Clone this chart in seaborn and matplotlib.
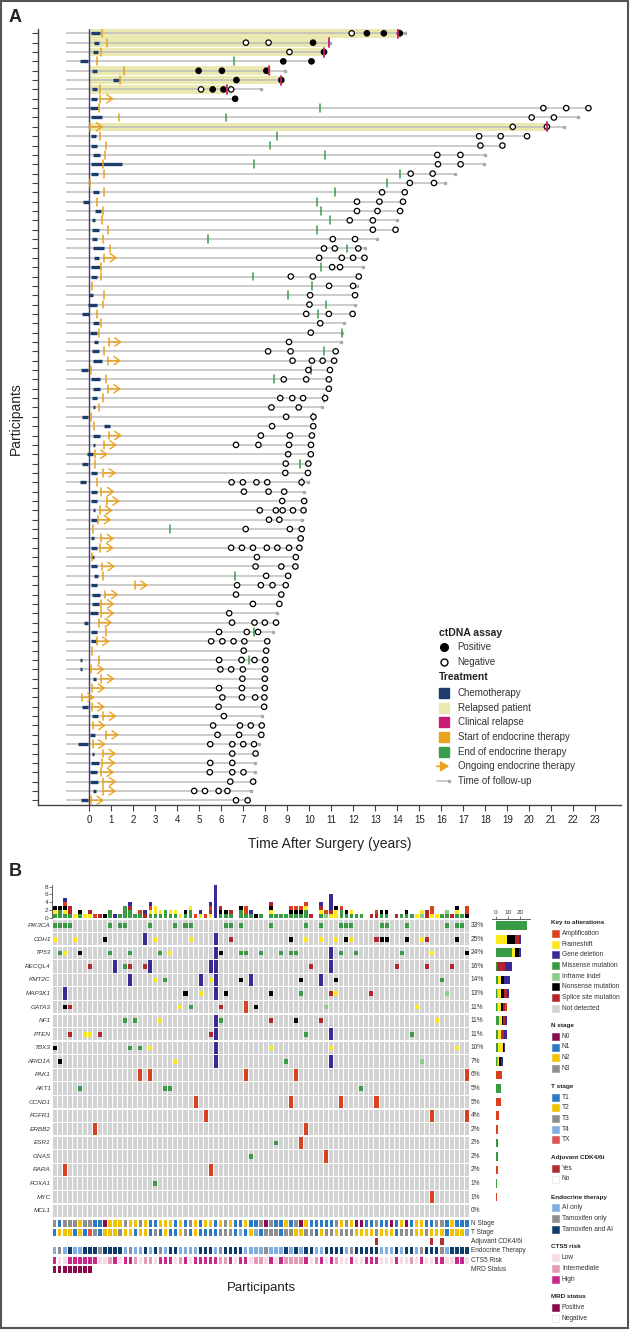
import numpy as np
import pandas as pd
import matplotlib
matplotlib.use("Agg")
import matplotlib.pyplot as plt
import seaborn as sns
from matplotlib.patches import Rectangle, FancyArrowPatch
from matplotlib.lines import Line2D
from matplotlib import font_manager

# ======================= PANEL A DATA =======================
chemo_start = [0.07, 0.20, 0.15, -0.40, 0.11, 1.06, 0.11, 0.09, 0.05, 0.09,
               None, 0.08, 0.08, 0.19, 0.08, 0.08, None, 0.16, -0.30, 0.28,
               0.13, 0.13, 0.11, 0.16, 0.20, 0.08, 0.08, None, 0.00, -0.07,
               -0.35, 0.15, 0.05, 0.22, 0.13, 0.18, -0.37, 0.07, 0.16, 0.13,
               0.15, -0.35, 0.68, 0.15, 0.15, -0.09, -0.35, 0.09, -0.40, 0.09,
               0.09, 0.16, 0.09, None, 0.07, 0.09, 0.07, 0.07, 0.20, 0.07,
               0.13, 0.11, 0.05, -0.22, 0.07, 0.07, None, -0.42, -0.40, 0.15,
               None, None, -0.33, 0.13, None, 0.05, -0.49, 0.11, 0.09, 0.05,
               0.05, 0.15, -0.37]
chemo_end = [0.51, 0.46, 0.38, -0.04, 0.37, 1.33, 0.33, 0.33, 0.38, 0.57,
             None, 0.32, 0.37, 0.50, 1.49, 0.39, None, 0.46, 0.00, 0.52,
             0.27, 0.43, 0.37, 0.67, 0.46, 0.49, 0.35, None, 0.16, 0.37,
             0.00, 0.42, 0.37, 0.38, 0.42, 0.60, -0.05, 0.51, 0.47, 0.35,
             0.24, -0.07, 0.93, 0.47, 0.22, 0.16, -0.07, 0.37, -0.16, 0.37,
             0.37, 0.26, 0.37, None, 0.22, 0.37, 0.20, 0.35, 0.38, 0.37,
             0.47, 0.44, 0.40, -0.07, 0.35, 0.33, None, -0.33, -0.31, 0.29,
             None, None, -0.07, 0.38, None, 0.26, -0.07, 0.20, 0.42, 0.33,
             0.38, 0.29, -0.07]
endo_start = [0.60, 0.82, 0.55, 0.33, 1.57, 1.39, 0.51, 0.51, 0.46, 1.37,
              0.04, 0.50, 0.75, 0.72, 0.61, 0.67, 0.04, 0.69, 0.33, 0.61,
              0.60, 0.84, 0.61, 0.95, 0.67, 0.52, 0.54, 0.14, 0.69, 0.62,
              0.33, 0.53, 0.44, 0.88, 0.66, 0.84, 0.09, 0.77, 0.84, 0.64,
              0.46, 0.09, 0.20, 0.88, 0.66, 0.24, 0.26, 0.62, 0.35, 0.55,
              0.79, 0.47, 0.40, 0.18, 0.53, 0.51, 0.13, 0.57, 0.62, 2.06,
              0.73, 0.55, 0.55, 0.44, 0.75, 0.33, 0.11, 0.44, 0.09, 0.55,
              0.13, -0.35, 0.11, 0.64, 0.15, 0.75, 0.15, 0.62, 0.60, 0.53,
              0.64, 0.62, 0.07]
endo_end = [None, None, None, 6.58, None, None, None, None, 10.47, 6.23,
            None, 8.54, 8.22, 10.70, 7.51, 14.11, 13.54, 11.19, 10.33, 10.52,
            10.96, 10.34, 5.38, 11.72, None, 10.52, 7.45, 10.13, 9.04, 10.76,
            10.41, None, 11.47, None, 10.67, None, 10.10, 8.39, None, 10.65,
            None, 10.19, None, None, None, None, 9.59, None, 9.65, None,
            None, None, None, 3.69, None, None, None, None, 6.63, None,
            None, None, None, None, 7.51, None, None, 7.27, None, None,
            None, None, None, None, None, None, None, None, None, None,
            None, None, None]
endo_ongoing = [0, 0, 0, 0, 0, 0, 0, 1, 0, 0,
                1, 0, 0, 0, 0, 0, 0, 0, 0, 0,
                0, 0, 0, 0, 1, 0, 0, 0, 0, 0,
                0, 0, 0, 1, 0, 1, 0, 0, 1, 0,
                0, 0, 0, 1, 1, 1, 0, 1, 0, 1,
                1, 1, 1, 0, 1, 1, 0, 1, 0, 1,
                1, 1, 1, 1, 0, 1, 0, 0, 1, 1,
                1, 1, 1, 1, 1, 1, 1, 1, 1, 1,
                1, 1, 1]
followup = [14.36, 10.92, 10.70, 10.19, 8.91, 8.75, 7.82, 6.63, 22.69, 22.20,
            21.60, 19.90, 18.78, 18.00, 17.94, 16.63, 16.17, 14.34, 14.26, 14.13,
            13.98, 13.92, 13.10, 12.54, 12.51, 12.43, 12.25, 12.19, 12.08, 12.06,
            11.97, 11.58, 11.47, 11.44, 11.20, 11.13, 10.94, 10.89, 10.89, 10.72,
            10.56, 10.19, 10.18, 10.12, 10.08, 10.07, 9.96, 9.94, 9.92, 9.77,
            9.77, 9.74, 9.68, 9.66, 9.61, 9.55, 9.39, 9.37, 9.04, 8.93,
            8.73, 8.64, 8.55, 8.49, 8.37, 8.09, 8.04, 8.00, 8.00, 7.98,
            7.98, 7.96, 7.95, 7.84, 7.84, 7.82, 7.73, 7.56, 7.54, 7.54,
            7.45, 7.36, 7.20]
relapse_row = [0, 1, 2, 4, 5, 6, 10]
relapse_time = [14.03, 10.90, 10.67, 8.15, 8.73, 6.28, 20.80]
relapse_band_end = [14.15, 10.92, 10.72, 8.25, 8.78, 6.47, 20.85]
ctdna_pos = [[12.62, 13.39, 14.12], [10.17], [10.67], [8.82, 10.10],
             [4.97, 6.03, 8.05], [6.69, 8.73], [5.61, 6.10], [6.63]]
ctdna_neg = [[11.93], [7.12, 8.15], [9.10], [], [], [], [5.08, 6.45], [],
             [20.64, 21.68, 22.69], [20.11, 21.12], [19.25, 20.80],
             [17.72, 18.70, 19.90], [17.78, 18.78], [15.82, 16.87], [15.85, 16.88],
             [14.61, 15.61], [14.57, 15.67], [13.31, 14.34], [12.17, 13.19, 14.26],
             [12.17, 13.10, 14.13], [11.84, 12.89], [12.89, 13.92], [11.07, 12.08],
             [10.67, 11.16, 12.23], [10.45, 11.48, 11.99, 12.51], [11.04, 11.40],
             [9.16, 10.16, 12.25], [10.90, 11.99], [10.04, 12.08], [10.01],
             [9.86, 10.89, 11.97], [10.50], [10.07], [9.08], [8.13, 9.15, 11.20],
             [9.24, 10.12, 10.61, 11.13], [9.96, 10.94], [8.84, 9.86, 10.89], [10.89],
             [8.68, 9.23, 9.72, 10.72], [8.28, 9.52], [8.95, 10.19], [8.31, 10.18],
             [7.80, 9.12, 10.12], [6.67, 7.69, 9.08, 10.08], [9.04, 10.07], [8.93, 9.96],
             [8.91, 9.94], [6.47, 6.98, 7.60, 8.09, 9.65], [7.03, 8.15, 8.86],
             [8.77, 9.77], [7.75, 8.48, 8.79, 9.26, 9.74], [8.17, 8.64],
             [7.11, 9.12, 9.66], [9.61], [6.45, 6.94, 7.44, 8.07, 8.55, 9.08, 9.55],
             [7.62, 9.39], [7.56, 8.73, 9.37], [8.04, 9.04], [6.72, 7.80, 8.33, 8.93],
             [6.67, 8.73], [7.44, 8.64], [6.36], [6.49, 7.51, 7.98, 8.49],
             [5.90, 7.16, 7.67], [5.54, 6.05, 6.56, 7.05, 8.09], [7.02, 8.04],
             [5.90, 6.92, 7.51, 8.00], [5.96, 6.45, 6.98, 8.00], [6.96, 7.98],
             [5.90, 6.94, 7.98], [6.05, 6.94, 7.54, 7.96], [5.88, 7.95], [6.12],
             [5.63, 6.85, 7.34, 7.84], [5.83, 6.81, 7.82], [5.50, 6.50, 7.00, 7.49],
             [6.50, 7.56], [5.50, 6.50], [5.48, 6.50, 7.01], [6.41, 7.45],
             [4.77, 5.26, 5.88, 6.28], [6.67, 7.20]]
x_ticks_A = list(range(0, 24))

# ======================= PANEL B DATA =======================
genes = ['PIK3CA', 'CDH1', 'TP53', 'RECQL4', 'KMT2C', 'MAP3K1', 'GATA3', 'NF1',
         'PTEN', 'TBX3', 'ARID1A', 'PAK1', 'AKT1', 'CCND1', 'FGFR1', 'ERBB2',
         'ESR1', 'GNAS', 'RARA', 'FOXA1', 'MYC', 'MCL1']
pct_labels = ['33%', '25%', '24%', '16%', '14%', '13%', '11%', '11%', '11%', '10%',
              '7%', '6%', '5%', '5%', '4%', '2%', '2%', '2%', '2%', '1%', '1%', '0%']
missense = {'PIK3CA': [0, 1, 2, 3, 11, 13, 14, 19, 24, 26, 27, 34, 35, 37, 43, 50, 53,
                       57, 58, 59, 65, 66, 70, 78, 80, 81],
            'TP53': [1, 11, 15, 21, 37, 38, 41, 45, 47, 48, 57, 60, 69],
            'RECQL4': [14], 'KMT2C': [22, 77], 'MAP3K1': [49], 'GATA3': [27],
            'NF1': [14, 16, 33], 'PTEN': [50, 71], 'TBX3': [15, 17], 'ARID1A': [46],
            'AKT1': [5, 22, 23, 61], 'ESR1': [44], 'GNAS': [39], 'FOXA1': [20]}
inframe = {'MAP3K1': [78], 'GATA3': [54], 'ARID1A': [73]}
frameshift = {'CDH1': [0, 4, 20, 27, 50, 53, 56, 59, 73], 'TP53': [2, 23, 75],
              'KMT2C': [20, 31], 'MAP3K1': [29, 56], 'GATA3': [25, 72], 'NF1': [21, 76],
              'PTEN': [6, 7], 'TBX3': [19, 43, 55, 80], 'ARID1A': [24]}
nonsense = {'CDH1': [10, 47, 58, 65, 66, 70, 80], 'TP53': [5, 33, 82],
            'KMT2C': [37, 49, 56], 'MAP3K1': [26, 34, 43], 'GATA3': [2, 40],
            'NF1': [48], 'TBX3': [0], 'ARID1A': [1]}
splice = {'CDH1': [35, 64, 74], 'RECQL4': [7, 15, 18, 51, 68, 74, 79],
          'MAP3K1': [55, 63], 'GATA3': [3, 33], 'NF1': [43, 53], 'PTEN': [3, 9, 31]}
amplification = {'GATA3': [38], 'PAK1': [17, 19, 38, 48, 82], 'CCND1': [28, 47, 57, 64],
                 'FGFR1': [30, 75, 82], 'ERBB2': [8, 50], 'ESR1': [49], 'GNAS': [54],
                 'RARA': [2, 31], 'MYC': [75]}
deletion = {'CDH1': [18, 32], 'TP53': [32, 55], 'RECQL4': [12, 19, 31, 32, 55],
            'KMT2C': [15, 29, 32, 39, 53], 'MAP3K1': [2, 32], 'NF1': [32],
            'PTEN': [32, 55], 'TBX3': [32], 'ARID1A': [32, 55]}
# clinical annotation tracks (one character per participant)
n_stage = "31333233110222322321122212132122123211211303112130211111323200113110120122113312111"
t_stage = "1222121X312223221221312112312111133314124133313322331233233322223222133322322212224"
adjuvant_cdk = [64, 75, 77]
endo_therapy = "ATABAABBBTBBBBATAABABTABBAAAABBBATBBBBAAAATAAABABABBAABBBBATBBBBBAAABABBATBBBTABBBB"
cts5_risk = "HLLHHHHHHLLIHLHHILIILHHHLIHLHHHHHIIHLHHLIILHLHIIIIHLIHLHILLHLLHHHLLLHLLILHLLHHLLHHL"
mrd_positive = [0, 1, 2, 3, 4, 5, 6, 7]

# ======================= STYLE =======================
sns.set_theme(style="white")
installed = {f.name for f in font_manager.fontManager.ttflist}
BASE = ['Liberation Sans', 'DejaVu Sans']
NARROW = (['Liberation Sans Narrow'] if 'Liberation Sans Narrow' in installed else []) + BASE
plt.rcParams['font.family'] = BASE

NAVY = '#1C3D6B'
BAND = '#EAEAB0'
MAGENTA = '#C81C77'
ORANGE = '#E9A21E'
GREEN = '#3C9E4A'
GLINE = '#BDBDBD'
ZERO = '#4A3B7A'
DARK = '#444444'
alt_colors = {'Amplification': '#D8401F', 'Frameshift': '#FCE81C', 'Deletion': '#3A2A94',
              'Missense': '#3A9B46', 'Inframe': '#8DCB89', 'Nonsense': '#000000',
              'Splice': '#B3272C'}
NOTDET = '#D3D3D3'
n_cols = {'0': '#8B0A50', '1': '#2B7BC4', '2': '#F2C200', '3': '#8E8E8E'}
t_cols = {'1': '#2B7BC4', '2': '#F2C200', '3': '#8E8E8E', '4': '#7EAEE2', 'X': '#D9534F'}
e_cols = {'A': '#7EAEE2', 'T': '#8E8E8E', 'B': '#0E3D6B'}
c_cols = {'L': '#F6DDE2', 'I': '#E29DB5', 'H': '#C8288A'}
ADJ = '#B03030'
MRD = '#8B0A4E'

W, H = 630, 1330
fig = plt.figure(figsize=(W / 100, H / 100), dpi=100)


def add_ax(l, t, r, b):
    return fig.add_axes([l / W, 1 - b / H, (r - l) / W, (b - t) / H])


def fx(p):
    return p / W


def fy(p):
    return 1 - p / H


# ======================= PANEL A =======================
ax = add_ax(38, 29, 621, 805)
n = len(followup)
for k, r in enumerate(relapse_row):
    ax.add_patch(Rectangle((0, r - 0.46), relapse_band_end[k], 0.92, color=BAND, lw=0, zorder=0))
for i in range(n):
    ax.plot([-1.08, followup[i]], [i, i], color=GLINE, lw=1.1, zorder=1, solid_capstyle='butt')
    ax.plot([followup[i]], [i], marker='s', ms=1.8, color='#AAAAAA', zorder=1)
    if chemo_start[i] is not None:
        ce = max(chemo_end[i], chemo_start[i] + 0.09)
        ax.plot([chemo_start[i], ce], [i, i], color=NAVY, lw=2.4, solid_capstyle='butt', zorder=3)
    es = endo_start[i]
    ax.plot([es, es], [i - 0.42, i + 0.42], color=ORANGE, lw=1.1, zorder=4)
    if endo_ongoing[i]:
        ax.annotate('', xy=(es + 0.6, i), xytext=(es, i),
                    arrowprops=dict(arrowstyle='->,head_length=0.35,head_width=0.25',
                                    color=ORANGE, lw=1.0, shrinkA=0, shrinkB=0), zorder=4)
    if endo_end[i] is not None:
        ax.plot([endo_end[i], endo_end[i]], [i - 0.42, i + 0.42], color=GREEN, lw=1.1, zorder=4)
ax.axvline(0, color=ZERO, lw=1.0, zorder=2)

pt_time, pt_row, pt_stat = [], [], []
for i, lst in enumerate(ctdna_pos):
    for t in lst:
        pt_time.append(t); pt_row.append(i); pt_stat.append('Positive')
for i, lst in enumerate(ctdna_neg):
    for t in lst:
        pt_time.append(t); pt_row.append(i); pt_stat.append('Negative')
pts = pd.DataFrame({'time': pt_time, 'row': pt_row, 'status': pt_stat})
sns.scatterplot(data=pts, x='time', y='row', hue='status',
                palette={'Positive': 'black', 'Negative': 'white'},
                edgecolor='black', linewidth=0.9, s=15, legend=False, ax=ax, zorder=5)
for k, r in enumerate(relapse_row):
    t = relapse_time[k]
    ax.plot([t, t], [r - 0.48, r + 0.48], color=MAGENTA, lw=1.3, zorder=6)

ax.set_xlim(-2.33, 24.17)
ax.set_ylim(82.5, -0.46)
ax.set_xticks(x_ticks_A)
ax.set_xticklabels([str(v) for v in x_ticks_A], fontsize=7, color='#222222')
ax.set_yticks(np.arange(n))
ax.set_yticklabels([])
ax.tick_params(axis='both', which='both', direction='out', length=4, width=0.8, color=DARK,
               left=True, bottom=True, pad=3)
for s in ['top', 'right']:
    ax.spines[s].set_visible(False)
for s in ['left', 'bottom']:
    ax.spines[s].set_color(DARK)
    ax.spines[s].set_linewidth(1.0)
ax.set_xlabel('Time After Surgery (years)', fontsize=10, family=NARROW, color='#222222', labelpad=9)
ax.set_ylabel('')
ax.grid(False)
fig.text(fx(16), fy(419), 'Participants', fontsize=10, family=NARROW, color='#222222',
         rotation=90, ha='center', va='center')

# legend A
fig.text(fx(439), fy(633), 'ctDNA assay', fontsize=7.5, weight='bold', va='center', color='#222222')
fig.add_artist(Line2D([fx(444)], [fy(646.7)], marker='o', ms=5.5, color='black',
                      transform=fig.transFigure))
fig.add_artist(Line2D([fx(444)], [fy(661.7)], marker='o', ms=5, mfc='white', mec='black',
                      mew=1.0, transform=fig.transFigure))
fig.text(fx(457.7), fy(646.7), 'Positive', fontsize=7, va='center', color='#333333')
fig.text(fx(457.7), fy(661.7), 'Negative', fontsize=7, va='center', color='#333333')
fig.text(fx(439), fy(677), 'Treatment', fontsize=7.5, weight='bold', va='center', color='#222222')
leg_sq = [(692.7, NAVY, 'Chemotherapy'), (707.7, BAND, 'Relapsed patient'),
          (722, MAGENTA, 'Clinical relapse'), (737.3, ORANGE, 'Start of endocrine therapy'),
          (752, GREEN, 'End of endocrine therapy')]
for py, col, lab in leg_sq:
    fig.add_artist(Rectangle((fx(439), fy(py + 5)), 10 / W, 10 / H, color=col,
                             transform=fig.transFigure))
    fig.text(fx(457.7), fy(py), lab, fontsize=7, va='center', color='#333333')
fig.add_artist(FancyArrowPatch((fx(434), fy(766.3)), (fx(452), fy(766.3)),
                               arrowstyle='-|>,head_length=5,head_width=3', mutation_scale=1,
                               color=ORANGE, lw=1.2, transform=fig.transFigure))
fig.text(fx(457.7), fy(766.3), 'Ongoing endocrine therapy', fontsize=7, va='center', color='#333333')
fig.add_artist(Line2D([fx(437), fx(449)], [fy(781), fy(781)], color=GLINE, lw=1.1,
                      transform=fig.transFigure))
fig.add_artist(Line2D([fx(449)], [fy(781)], marker='s', ms=2, color='#AAAAAA',
                      transform=fig.transFigure))
fig.text(fx(457.7), fy(781), 'Time of follow-up', fontsize=7, va='center', color='#333333')

fig.text(fx(9), fy(17), 'A', fontsize=13, weight='bold', va='center', color='#222222')
fig.text(fx(9), fy(872), 'B', fontsize=13, weight='bold', va='center', color='#222222')

# ======================= PANEL B =======================
types_order = ['Missense', 'Inframe', 'Frameshift', 'Nonsense', 'Splice', 'Amplification', 'Deletion']
type_dicts = {'Missense': missense, 'Inframe': inframe, 'Frameshift': frameshift,
              'Nonsense': nonsense, 'Splice': splice, 'Amplification': amplification,
              'Deletion': deletion}
recs = []
for tname in types_order:
    for g, cols in type_dicts[tname].items():
        for c in cols:
            recs.append((genes.index(g), c, tname))
alt = pd.DataFrame(recs, columns=['gene', 'col', 'type'])
NP = 83
NG = len(genes)

onc = add_ax(52.3, 918.9, 469.5, 1217.5)
xs = np.arange(NP)
for g in range(NG):
    onc.bar(xs, 0.91, bottom=g - 0.455, width=0.8, color=NOTDET, lw=0)
for tname in types_order:
    sub = alt[alt.type == tname]
    if tname in ('Amplification', 'Deletion'):
        onc.bar(sub.col, 0.91, bottom=sub.gene - 0.455, width=0.8, color=alt_colors[tname], lw=0)
    else:
        onc.bar(sub.col, 0.34, bottom=sub.gene - 0.17, width=0.8, color=alt_colors[tname], lw=0)
onc.set_xlim(-0.5, NP - 0.5)
onc.set_ylim(NG - 0.5, -0.5)
onc.axis('off')
for g, name in enumerate(genes):
    onc.text(-0.8, g, name, ha='right', va='center', fontsize=4.6, style='italic', color='#333333')
    onc.text(NP - 0.2, g, pct_labels[g], ha='left', va='center', fontsize=4.8, color='#333333')

# top bar chart
top = add_ax(52.3, 885, 469.5, 917.7)
counts = pd.crosstab(alt.col, alt.type).reindex(index=range(NP), columns=types_order, fill_value=0)
cum = np.zeros(NP)
for tname in types_order:
    top.bar(xs, counts[tname].values, bottom=cum, width=0.72, color=alt_colors[tname], lw=0)
    cum += counts[tname].values
top.set_xlim(-0.5, NP - 0.5)
top.set_ylim(0, 8.45)
top.set_yticks([0, 2, 4, 6, 8])
top.set_yticklabels(['0', '2', '4', '6', '8'], fontsize=4.6, color='#333333')
top.set_xticks([])
for s in ['top', 'right', 'bottom']:
    top.spines[s].set_visible(False)
top.spines['left'].set_color(DARK)
top.spines['left'].set_linewidth(0.6)
top.tick_params(axis='y', left=True, length=2, width=0.5, pad=1, color=DARK)

# right bar chart
rb = add_ax(492.3, 918.9, 530, 1217.5)
gcounts = pd.crosstab(alt.gene, alt.type).reindex(index=range(NG), columns=types_order, fill_value=0)
cum = np.zeros(NG)
for tname in types_order:
    rb.barh(np.arange(NG), gcounts[tname].values, left=cum, height=0.64,
            color=alt_colors[tname], lw=0)
    cum += gcounts[tname].values
rb.set_xlim(-2.8, 28.1)
rb.set_ylim(NG - 0.5, -0.5)
rb.set_yticks([])
rb.xaxis.tick_top()
rb.set_xticks([0, 10, 20])
rb.set_xticklabels(['0', '10', '20'], fontsize=4.6, color='#333333')
rb.tick_params(axis='x', top=True, length=2, width=0.5, pad=1, color=DARK)
for s in ['bottom', 'right', 'left']:
    rb.spines[s].set_visible(False)
rb.spines['top'].set_color(DARK)
rb.spines['top'].set_linewidth(0.6)

# annotation tracks
ann = add_ax(52.3, 1218.7, 469.5, 1273.9)
track_specs = [(0, n_stage, n_cols), (1, t_stage, t_cols), (3, endo_therapy, e_cols),
               (4, cts5_risk, c_cols)]
for row, codes, cmap in track_specs:
    colors = [cmap[c] for c in codes]
    ann.bar(xs, 0.76, bottom=row - 0.38, width=0.66, color=colors, lw=0)
ann.bar(adjuvant_cdk, 0.76, bottom=2 - 0.38, width=0.66, color=ADJ, lw=0)
ann.bar(mrd_positive, 0.76, bottom=5 - 0.38, width=0.66, color=MRD, lw=0)
ann.set_xlim(-0.5, NP - 0.5)
ann.set_ylim(5.5, -0.5)
ann.axis('off')
track_names = ['N Stage', 'T Stage', 'Adjuvant CDK4/6i', 'Endocrine Therapy', 'CTS5 Risk', 'MRD Status']
for k, name in enumerate(track_names):
    ann.text(NP - 0.2, k, name, ha='left', va='center', fontsize=4.7, color='#333333')

fig.text(fx(261), fy(1288), 'Participants', fontsize=9.5, family=NARROW, ha='center',
         va='center', color='#222222')


# legend B
def leg_header(py, text):
    fig.text(fx(551.3), fy(py), text, fontsize=4.6, weight='bold', va='center', color='#222222')


def leg_item(py, col, text, edge=None):
    fig.add_artist(Rectangle((fx(551.7), fy(py + 3.5)), 7 / W, 7 / H, facecolor=col,
                             edgecolor=edge if edge else col, lw=0.4, transform=fig.transFigure))
    fig.text(fx(562), fy(py), text, fontsize=4.8, va='center', color='#333333')


leg_header(922.7, 'Key to alterations')
alt_leg = [('Amplification', 'Amplification'), ('Frameshift', 'Frameshift'),
           ('Deletion', 'Gene deletion'), ('Missense', 'Missense mutation'),
           ('Inframe', 'Inframe indel'), ('Nonsense', 'Nonsense mutation'),
           ('Splice', 'Splice site mutation')]
for k, (tk, lab) in enumerate(alt_leg):
    leg_item(933.3 + 10.7 * k, alt_colors[tk], lab)
leg_item(933.3 + 10.7 * 7, NOTDET, 'Not detected')

leg_header(1025.7, 'N stage')
for k, (code, lab) in enumerate([('0', 'N0'), ('1', 'N1'), ('2', 'N2'), ('3', 'N3')]):
    leg_item(1036.3 + 10.7 * k, n_cols[code], lab)
leg_header(1086.7, 'T stage')
for k, (code, lab) in enumerate([('1', 'T1'), ('2', 'T2'), ('3', 'T3'), ('4', 'T4'), ('X', 'TX')]):
    leg_item(1097.3 + 10.6 * k, t_cols[code], lab)
leg_header(1157.7, 'Adjuvant CDK4/6i')
leg_item(1168.3, ADJ, 'Yes')
leg_item(1179.0, 'white', 'No', edge='#DDDDDD')
leg_header(1197, 'Endocrine therapy')
for k, (code, lab) in enumerate([('A', 'AI only'), ('T', 'Tamoxifen only'), ('B', 'Tamoxifen and AI')]):
    leg_item(1207.7 + 10.7 * k, e_cols[code], lab)
leg_header(1247, 'CTS5 risk')
for k, (code, lab) in enumerate([('L', 'Low'), ('I', 'Intermediate'), ('H', 'High')]):
    leg_item(1257.7 + 10.7 * k, c_cols[code], lab)
leg_header(1297, 'MRD status')
leg_item(1307.7, MRD, 'Positive')
leg_item(1318.3, 'white', 'Negative', edge='#DDDDDD')

# frame around figure
fig.add_artist(Rectangle((fx(1), fy(1328)), 627 / W, 1327 / H, fill=False, edgecolor='#555555',
                         lw=1.5, transform=fig.transFigure))

fig.savefig('out.png', dpi=100)
